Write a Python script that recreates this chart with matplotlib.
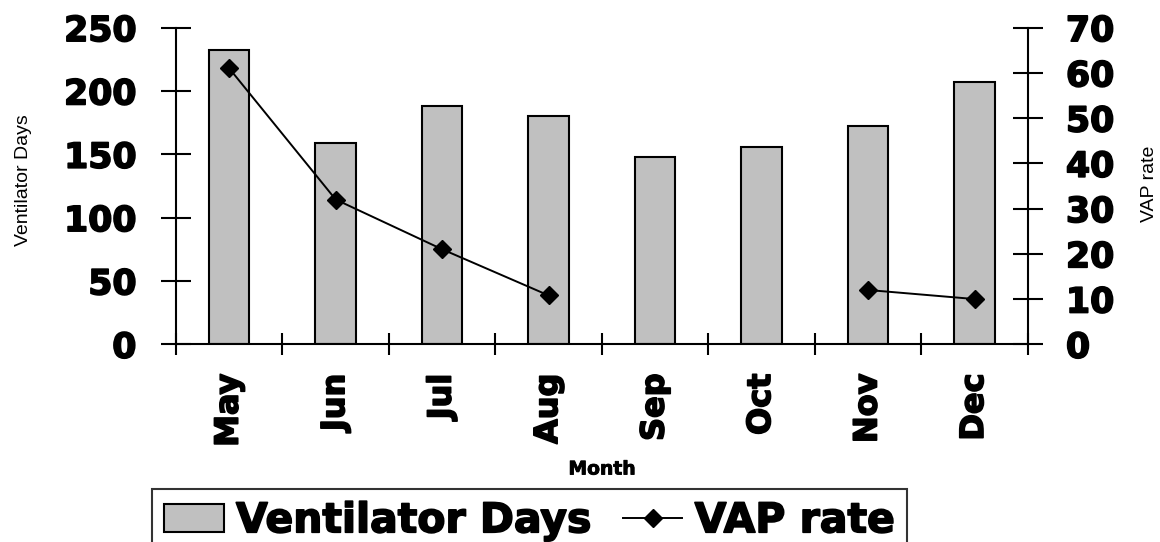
import numpy as np
import matplotlib
matplotlib.use("Agg")
import matplotlib.pyplot as plt
import matplotlib.patheffects as pe
from matplotlib.ticker import FixedLocator

## data
months = ['May', 'Jun', 'Jul', 'Aug', 'Sep', 'Oct', 'Nov', 'Dec']
vent_days = [232, 159, 188, 180, 148, 156, 172, 207]
vap_rate = [61, 32, 21, 10.8, np.nan, np.nan, 12, 10]

## heavier look for the bold labels
heavy = [pe.withStroke(linewidth=1.2, foreground='black')]

fig = plt.figure(figsize=(11.6, 5.42), dpi=100)
ax = fig.add_axes([0.1517, 0.3648, 0.7343, 0.5842])
ax2 = ax.twinx()

x = np.arange(len(months))

## bars for ventilator days
bars = ax.bar(x, vent_days, width=0.38, color='#c0c0c0', edgecolor='black',
              linewidth=1.5, label='Ventilator Days')

## line for VAP rate (gaps where no value)
line, = ax2.plot(x, vap_rate, color='black', linewidth=1.4, marker='D',
                 markersize=9, label='VAP rate')

## axis ranges
ax.set_xlim(-0.5, len(months) - 0.5)
ax.set_ylim(0, 250)
ax2.set_ylim(0, 70)
ax.set_yticks(np.arange(0, 251, 50))
ax2.set_yticks(np.arange(0, 71, 10))

## x ticks: labels at centres, tick marks between categories
ax.set_xticks(x)
ax.set_xticklabels(months, rotation=90, fontsize=23, fontweight='bold')
ax.xaxis.set_minor_locator(FixedLocator(np.arange(-0.5, len(months), 1.0)))
ax.tick_params(axis='x', which='major', length=0, pad=21)
ax.tick_params(axis='x', which='minor', direction='inout', length=16.5, width=1.5)

## y ticks
ax.tick_params(axis='y', direction='inout', length=21, width=1.5, pad=18, labelsize=25)
ax2.tick_params(axis='y', direction='inout', length=21, width=1.5, pad=17, labelsize=25)
for lab in ax.get_yticklabels() + ax2.get_yticklabels() + ax.get_xticklabels():
    lab.set_fontweight('bold')
    lab.set_path_effects(heavy)

## spines
for a in (ax, ax2):
    a.spines['top'].set_visible(False)
    for s in ('left', 'right', 'bottom'):
        a.spines[s].set_linewidth(1.5)
ax2.spines['left'].set_visible(False)
ax2.spines['bottom'].set_visible(False)
ax.spines['right'].set_visible(False)

## axis titles
fig.text(24 / 1160, 1 - 180 / 542, 'Ventilator Days', rotation=90, ha='center', va='center',
         fontsize=14, family='Liberation Sans')
fig.text(1150 / 1160, 1 - 184 / 542, 'VAP rate', rotation=90, ha='center', va='center',
         fontsize=14, family='Liberation Sans')
fig.text(602 / 1160, 1 - 469 / 542, 'Month', ha='center', va='center',
         fontsize=13.5, fontweight='bold',
         path_effects=[pe.withStroke(linewidth=0.6, foreground='black')])

## legend at the bottom, cut by the figure edge
leg = fig.legend([bars, line], ['Ventilator Days', 'VAP rate'], ncol=2,
                 loc='upper left', bbox_to_anchor=(152 / 1160, 1 - 489 / 542),
                 borderaxespad=0, frameon=True, fancybox=False,
                 prop={'size': 29.5, 'weight': 'bold'},
                 handlelength=1.45, handleheight=0.66, handletextpad=0.3,
                 columnspacing=0.75, borderpad=0.3)
leg.get_frame().set_edgecolor('black')
leg.get_frame().set_linewidth(1.5)
for t in leg.get_texts():
    t.set_path_effects(heavy)

plt.savefig('out.png', dpi=100)
